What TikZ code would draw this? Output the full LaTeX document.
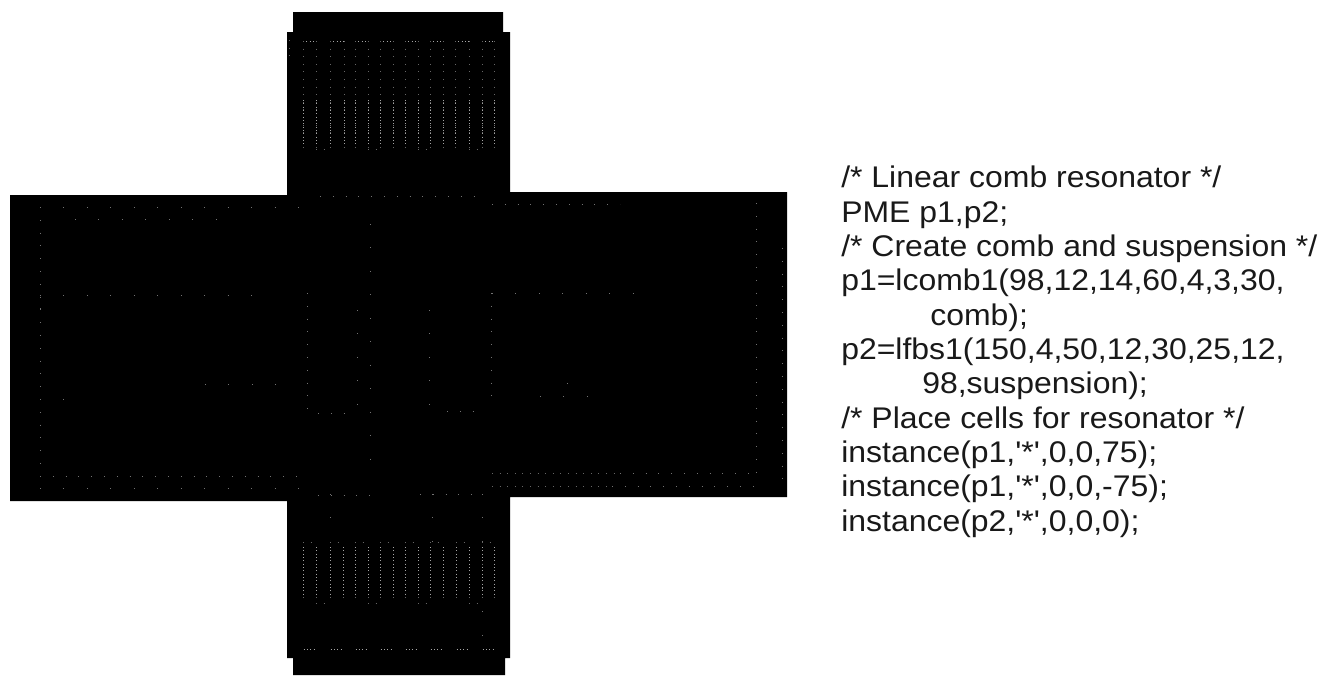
\documentclass[tikz,border=0pt]{standalone}
\usepackage{fontspec}
\newfontfamily\codefont[FakeStretch=1.07]{Liberation Sans}
\tikzset{
  mask/.style={fill=black,draw=none},
  fing/.style={draw=white!65!black,line width=0.55pt,dash pattern=on 0.8pt off 1.7pt},
  fingb/.style={draw=white!40!black,line width=0.5pt,dash pattern=on 0.7pt off 5pt},
  faint/.style={draw=white!45!black,line width=0.35pt,dash pattern=on 0.6pt off 17pt},
  faintb/.style={draw=white!45!black,line width=0.35pt,dash pattern=on 0.6pt off 9pt},
  code/.style={anchor=base west,inner sep=0pt,font=\codefont\fontsize{22.4pt}{26pt}\selectfont,text=black!90}
}
\begin{document}
\begin{tikzpicture}[x=0.75pt,y=-0.75pt]
\useasboundingbox (0,0) rectangle (1326,675);
\fill[white] (0,0) rectangle (1326,675);
% cross-shaped die
\fill[mask] (293,12) -- (503,12) -- (503,32) -- (510,32) -- (510,192) -- (787,192) -- (787,497) -- (510,497)
  -- (510,658) -- (505,658) -- (505,675) -- (293,675) -- (293,658) -- (287,658) -- (287,501) -- (10,501)
  -- (10,195) -- (287,195) -- (287,32) -- (293,32) -- cycle;
% top comb
\foreach \a/\b in {303/316,330/344,355/368,380/393,405/418,430/443,455/469,482/494}{
  \draw[fing] (\a,41) -- (\b,41);
  \draw[fingb] (\a,41) -- (\a,148);
  \draw[fing] (\a,100) -- (\a,146);
  \draw[fingb] (\b,41) -- (\b,148);
  \draw[fing] (\b,100) -- (\b,146);
}
\foreach \a/\b in {316/330,368/380,418/430,469/482}{\draw[fingb] (\a,149) -- (\b,149);}
\draw[fingb] (289,40) -- (289,60);
\draw[faintb] (320,196) -- (480,196);
% bottom comb
\foreach \a/\b in {303/316,330/343,355/368,380/393,405/418,430/443,456/469,482/494}{
  \draw[fing] (\a+0.5,649) -- (\b,649);
  \draw[fing] (\a,547) -- (\a,597);
  \draw[fingb] (\a,597) -- (\a,604);
  \draw[fing] (\b,547) -- (\b,597);
  \draw[fingb] (\b,597) -- (\b,604);
  \draw[fingb] (\a,542) -- (\b,542);
}
\foreach \a/\b in {316/330,368/380,418/430,469/482}{\draw[fingb] (\a,603) -- (\b,603);}
\draw[faint] (330,494) -- (330,520) (432,494) -- (432,560) (482,494) -- (482,649);
\draw[faintb] (318,495) -- (380,495) (420,494) -- (480,494);
% left pad
\draw[faintb] (40,207) -- (40,488);
\draw[faint] (40,207) -- (305,207);
\draw[faint] (40,488) -- (305,488);
\draw[faintb] (40,476) -- (305,476);
\draw[faint] (75,219) -- (225,219);
\draw[faint] (40,295) -- (258,295);
\draw[faint] (40,308) -- (62,308);
\draw[faint] (205,384) -- (295,384);
\draw[faint] (40,399) -- (72,399);
\draw[faintb] (307,293) -- (307,410);
\draw[faintb] (318,413) -- (350,413);
\draw[faint] (357,310) -- (357,410);
\draw[faint] (370,224) -- (370,470);
% right pad
\draw[fingb] (492,473) -- (620,473);
\draw[fingb] (492,486) -- (612,486);
\draw[faintb] (620,473) -- (756,473) (612,486) -- (756,486);
\draw[faintb] (492,204) -- (620,204);
\draw[faint] (492,293) -- (656,293);
\draw[faintb] (491,293) -- (491,405);
\draw[faint] (567,383) -- (590,383);
\draw[faint] (540,396) -- (590,396);
\draw[faintb] (756,203) -- (756,478);
\draw[faintb] (782,248) -- (782,485);
\draw[faint] (429,310) -- (429,410);
\draw[faintb] (447,411) -- (482,411);
% code
\node[code] (l1) at (841,187.5) {/* Linear comb resonator */};
\node[code] (l2) at (841,222) {PME p1,p2;};
\node[code] (l3) at (841,256) {/* Create comb and suspension */};
\node[code] (l4) at (841,290.5) {p1=lcomb1(98,12,14,60,4,3,30,};
\node[code] (l5) at (930,325) {comb);};
\node[code] (l6) at (841,359) {p2=lfbs1(150,4,50,12,30,25,12,};
\node[code] (l7) at (922,393.5) {98,suspension);};
\node[code] (l8) at (841,428) {/* Place cells for resonator */};
\node[code] (l9) at (841,462) {instance(p1,'*',0,0,75);};
\node[code] (l10) at (841,496.5) {instance(p1,'*',0,0,-75);};
\node[code] (l11) at (841,531) {instance(p2,'*',0,0,0);};
\end{tikzpicture}
\end{document}
